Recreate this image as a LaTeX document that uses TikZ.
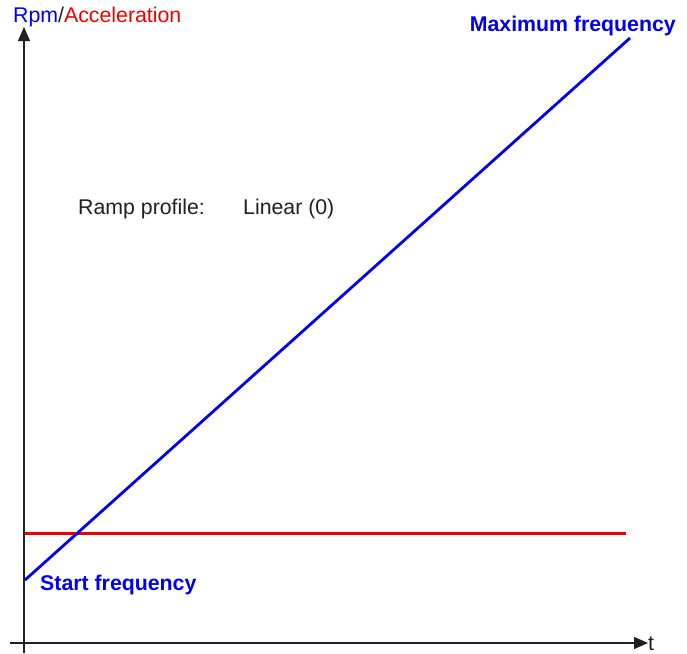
\documentclass[tikz,border=0pt]{standalone}
\usepackage{fontspec}
\setmainfont{Liberation Sans}
\usetikzlibrary{arrows.meta}
\definecolor{axisgray}{HTML}{231F20}
\definecolor{pblue}{HTML}{0000EE}
\definecolor{pred}{HTML}{EE0000}
\tikzset{
  axisline/.style={axisgray, line width=1.2pt, -{Triangle[length=14pt,width=12pt]}},
  curve/.style={line width=2.8pt},
  lbl/.style={inner sep=0pt, font=\fontsize{21.3}{25}\selectfont},
  blbl/.style={lbl, font=\fontsize{21.3}{25}\selectfont\bfseries, text=pblue},
}
\begin{document}
\begin{tikzpicture}[x=1pt,y=-1pt]
\useasboundingbox (0,0) rectangle (687,653);
% axes
\coordinate (ybot) at (24,653);
\coordinate (ytop) at (24,27);
\coordinate (xleft) at (10,643);
\coordinate (xright) at (648,643);
\draw[axisline] (ybot) -- (ytop);
\draw[axisline] (xleft) -- (xright);
% curves
\coordinate (bstart) at (25,580);
\coordinate (bend) at (630,38);
\coordinate (rstart) at (25,533.5);
\coordinate (rend) at (626,533.5);
\draw[curve, pred] (rstart) -- (rend);
\draw[curve, pblue] (bstart) -- (bend);
% labels
\node[lbl, anchor=west] (ylab) at (13,17) {\textcolor{pblue}{Rpm}\textcolor{axisgray}{/}\textcolor{pred}{Acceleration}};
\node[lbl, anchor=base west, text=axisgray] (tlab) at (648,650) {t};
\node[blbl, anchor=east] (maxf) at (676,26) {Maximum frequency};
\node[blbl, anchor=west] (startf) at (40,585) {Start frequency};
\node[lbl, anchor=west, text=axisgray] (ramp) at (78,209) {Ramp profile:};
\node[lbl, anchor=west, text=axisgray] (lin) at (243,209) {Linear (0)};
\end{tikzpicture}
\end{document}
